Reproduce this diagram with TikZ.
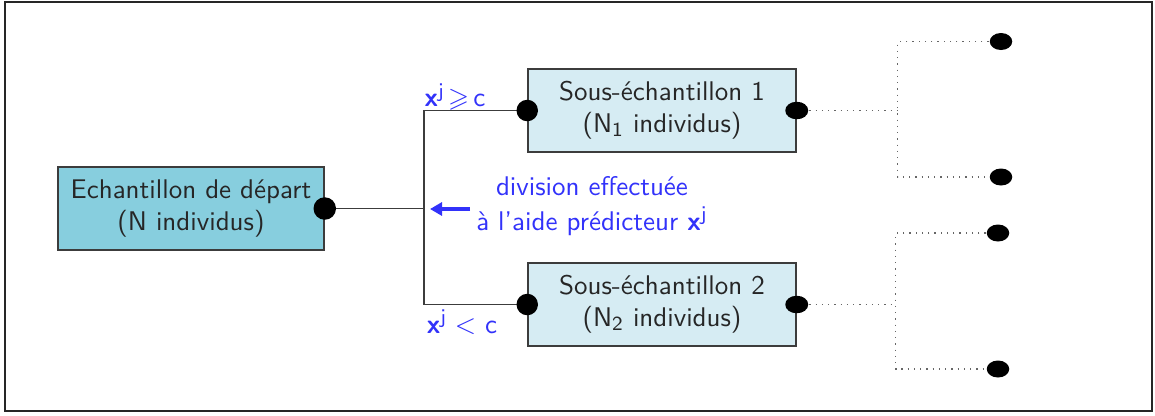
\documentclass[tikz,border=0pt]{standalone}
\usepackage{amssymb}
\usetikzlibrary{arrows.meta,calc}
\definecolor{boxA}{RGB}{135,206,222}
\definecolor{boxB}{RGB}{214,236,243}
\definecolor{lblue}{RGB}{50,50,250}
\definecolor{edge}{RGB}{60,60,60}
\begin{document}
\begin{tikzpicture}[x=0.4pt,y=-0.4pt,
  every node/.style={font=\sffamily\fontsize{10.8pt}{12.8pt}\selectfont},
  sample/.style={draw=edge,line width=0.6pt,inner sep=0pt,align=center,
    minimum height=33.2pt,text=black!85},
  lbl/.style={text=lblue,inner sep=0pt,align=center},
  link/.style={draw=edge,line width=0.6pt},
  dots/.style={draw=black!60,line width=0.5pt,dotted},
  bigdot/.style={fill=black},
]
\useasboundingbox (0,0) rectangle (1155,415);
\draw[line width=0.8pt,black!85] (5,2) rectangle (1152,411);

\node[sample,fill=boxA,minimum width=106.4pt] (b1) at (191,208.5)
  {Echantillon de départ\\(N individus)};
\node[sample,fill=boxB,minimum width=107.2pt] (b2) at (662,110.5)
  {Sous-échantillon 1\\(N$_{\mathsf{1}}$ individus)};
\node[sample,fill=boxB,minimum width=107.2pt] (b3) at (662,304.5)
  {Sous-échantillon 2\\(N$_{\mathsf{2}}$ individus)};

\coordinate (split) at (424,208.5);
\draw[link] (b1.east) -- (split);
\draw[link] (b2.west) -| (split) |- (b3.west);

\coordinate (j1) at ($(b2.east)+(101,0)$);
\coordinate (j2) at ($(b3.east)+(99,0)$);
\coordinate (l1) at (1001,41.5);
\coordinate (l2) at (1001,177);
\coordinate (l3) at (998,233);
\coordinate (l4) at (998,369);
\draw[dots] (b2.east) -- (j1);
\draw[dots] (l1) -| (j1) |- (l2);
\draw[dots] (b3.east) -- (j2);
\draw[dots] (l3) -| (j2) |- (l4);

\fill[bigdot] (b1.east) circle[radius=4.5pt];
\fill[bigdot] (b2.west) circle[radius=4.3pt];
\fill[bigdot] (b3.west) circle[radius=4.3pt];
\fill[bigdot] (b2.east) ellipse[x radius=4.6pt,y radius=3.5pt];
\fill[bigdot] (b3.east) ellipse[x radius=4.6pt,y radius=3.5pt];
\foreach \l in {l1,l2,l3,l4}
  \fill[bigdot] (\l) ellipse[x radius=4.5pt,y radius=3.4pt];

\node[lbl] (up) at (455,97) {\textbf{x}$^{\mathsf{j}}\!\geqslant\!$ c};
\node[lbl] (down) at (462,322) {\textbf{x}$^{\mathsf{j}}<$ c};
\node[lbl] (div) at (592,206) {division effectuée\\[1pt] à l'aide prédicteur \textbf{x}$^{\mathsf{j}}$};
\coordinate (aS) at (470,209);
\coordinate (aE) at (430,209);
\draw[lblue,line width=1.6pt,-{Triangle[length=4.8pt,width=5.2pt]}] (aS) -- (aE);
\end{tikzpicture}
\end{document}
